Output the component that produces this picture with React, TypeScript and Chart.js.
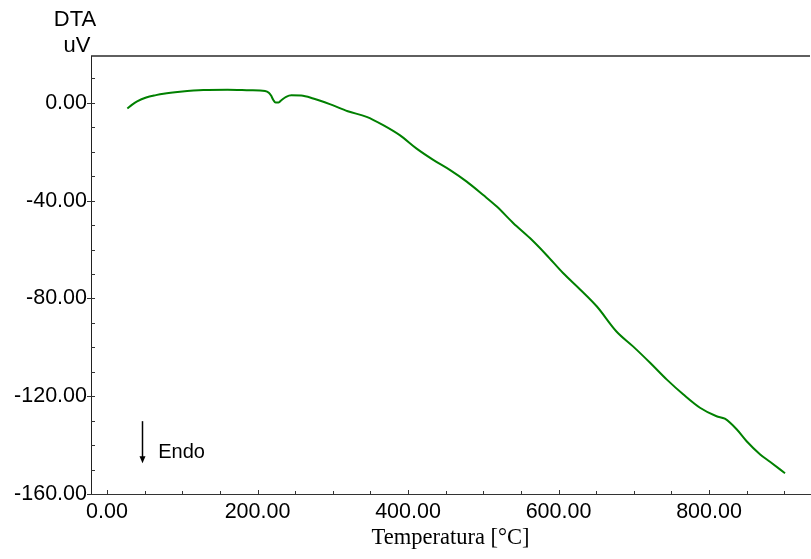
import { useEffect, useRef } from "react";
import { Chart, registerables } from "chart.js";

Chart.register(...registerables);

// ---- Data ----
const temperature: number[] = [
  27, 33, 40, 52, 65, 75, 97, 128, 160, 190, 210, 215, 218, 221, 224, 228, 232,
  238, 245, 258, 274, 296, 320, 345, 367, 389, 411, 434, 456, 478, 500, 518,
  540, 562, 584, 606, 629, 651, 677, 699, 722, 744, 766, 788, 810, 821, 837,
  850, 868, 881, 901,
];
const dtaValues: number[] = [
  -2.3, -0.8, 0.6, 2.2, 3.2, 3.8, 4.6, 5.3, 5.4, 5.2, 4.9, 4.2, 3.0, 1.2, 0.2,
  0.2, 1.2, 2.5, 3.1, 3.0, 1.8, -0.5, -3.4, -5.7, -9.1, -13.2, -18.6, -23.4,
  -27.5, -32.2, -37.7, -42.4, -49.2, -55.3, -62.2, -69.6, -76.4, -83.3, -93.5,
  -99.6, -106.4, -113.2, -119.3, -124.7, -128.2, -129.2, -133.6, -138.4,
  -143.8, -146.8, -151.5,
];
const xMajorTicks: number[] = [0, 200, 400, 600, 800];
const xMinorTicks: number[] = [50, 100, 150, 250, 300, 350, 450, 500, 550, 650, 700, 750, 850, 900];
const yMajorTicks: number[] = [-160, -120, -80, -40, 0];
const yMinorTicks: number[] = [-150, -140, -130, -110, -100, -90, -70, -60, -50, -30, -20, -10, 10];
const xTitle = "Temperatura [°C]";
const yTitleLines: string[] = ["DTA", "uV"];
const endoLabel = "Endo";

const X_MIN = -21.3;
const X_MAX = 934.2;
const Y_MIN = -160;
const Y_MAX = 19.2;

const W = 811;
const H = 559;
const SANS = "'Liberation Sans', Arial, sans-serif";
const SERIF = "'Liberation Serif', 'Times New Roman', serif";

const decorPlugin = {
  id: "decor",
  afterDraw(chart: any) {
    const ctx = chart.ctx as CanvasRenderingContext2D;
    const area = chart.chartArea;
    const xs = chart.scales.x;
    const ys = chart.scales.y;
    ctx.save();

    // top border line
    ctx.strokeStyle = "#2a2a2a";
    ctx.lineWidth = 1.6;
    ctx.beginPath();
    ctx.moveTo(area.left, area.top);
    ctx.lineTo(area.right, area.top);
    ctx.stroke();

    ctx.strokeStyle = "#333";
    ctx.lineWidth = 1;
    // y ticks
    for (const v of yMajorTicks) {
      const y = Math.round(ys.getPixelForValue(v)) + 0.5;
      ctx.beginPath();
      ctx.moveTo(area.left - 4, y);
      ctx.lineTo(area.left + 4, y);
      ctx.stroke();
    }
    for (const v of yMinorTicks) {
      const y = Math.round(ys.getPixelForValue(v)) + 0.5;
      ctx.beginPath();
      ctx.moveTo(area.left, y);
      ctx.lineTo(area.left + 4, y);
      ctx.stroke();
    }
    // x ticks (inside, upward)
    for (const v of xMajorTicks) {
      const x = Math.round(xs.getPixelForValue(v)) + 0.5;
      ctx.beginPath();
      ctx.moveTo(x, area.bottom);
      ctx.lineTo(x, area.bottom - 4);
      ctx.stroke();
    }
    for (const v of xMinorTicks) {
      const x = Math.round(xs.getPixelForValue(v)) + 0.5;
      ctx.beginPath();
      ctx.moveTo(x, area.bottom);
      ctx.lineTo(x, area.bottom - 3);
      ctx.stroke();
    }

    // y axis title (two lines)
    ctx.fillStyle = "#000";
    ctx.font = `22px ${SANS}`;
    ctx.textAlign = "center";
    ctx.textBaseline = "alphabetic";
    ctx.fillText(yTitleLines[0], 75, 26);
    ctx.fillText(yTitleLines[1], 77, 52);

    // Endo arrow
    const ax = Math.round(xs.getPixelForValue(47)) + 0.5;
    const ay0 = ys.getPixelForValue(-130.2);
    const ay1 = ys.getPixelForValue(-145);
    ctx.strokeStyle = "#000";
    ctx.lineWidth = 1.5;
    ctx.beginPath();
    ctx.moveTo(ax, ay0);
    ctx.lineTo(ax, ay1);
    ctx.stroke();
    const tipY = ys.getPixelForValue(-147.4);
    ctx.beginPath();
    ctx.moveTo(ax - 3, ay1 - 1);
    ctx.lineTo(ax + 3, ay1 - 1);
    ctx.lineTo(ax, tipY);
    ctx.closePath();
    ctx.fill();

    ctx.font = `20px ${SANS}`;
    ctx.textAlign = "left";
    ctx.fillText(endoLabel, xs.getPixelForValue(68), ys.getPixelForValue(-145.2));

    ctx.restore();
  },
};

export default function App() {
  const canvasRef = useRef<HTMLCanvasElement | null>(null);

  useEffect(() => {
    const canvas = canvasRef.current;
    if (!canvas) return;
    const points = temperature.map((t, i) => ({ x: t, y: dtaValues[i] }));
    const chart = new Chart(canvas, {
      type: "line",
      data: {
        datasets: [
          {
            data: points,
            borderColor: "rgb(0,128,0)",
            borderWidth: 2,
            pointRadius: 0,
            fill: false,
            cubicInterpolationMode: "monotone",
          },
        ],
      },
      options: {
        animation: false,
        responsive: false,
        devicePixelRatio: 1,
        layout: { padding: { top: 56, right: 1, left: 0, bottom: 0 } },
        plugins: {
          legend: { display: false },
          tooltip: { enabled: false },
        },
        scales: {
          x: {
            type: "linear",
            min: X_MIN,
            max: X_MAX,
            afterFit: (s: any) => {
              s.height = 65;
            },
            afterBuildTicks: (s: any) => {
              s.ticks = xMajorTicks.map((v) => ({ value: v }));
            },
            grid: { display: false, drawTicks: false },
            border: { display: true, color: "#333", width: 1 },
            ticks: {
              padding: 5,
              color: "#000",
              maxRotation: 0,
              font: { family: SANS, size: 21.5 },
              callback: (v: any) => Number(v).toFixed(2),
            },
            title: {
              display: true,
              text: xTitle,
              color: "#000",
              font: { family: SERIF, size: 22.5 },
              padding: { top: 0, bottom: 7 },
            },
          },
          y: {
            type: "linear",
            min: Y_MIN,
            max: Y_MAX,
            afterFit: (s: any) => {
              s.width = 91;
            },
            afterBuildTicks: (s: any) => {
              s.ticks = yMajorTicks.map((v) => ({ value: v }));
            },
            grid: { display: false, drawTicks: false },
            border: { display: true, color: "#222", width: 1 },
            ticks: {
              padding: 4,
              color: "#000",
              font: { family: SANS, size: 21.5 },
              callback: (v: any) => Number(v).toFixed(2),
            },
          },
        },
      },
      plugins: [decorPlugin],
    });
    return () => chart.destroy();
  }, []);

  return (
    <div style={{ position: "absolute", left: 0, top: 0, width: W, height: H, background: "#fff" }}>
      <canvas ref={canvasRef} width={W} height={H} style={{ width: W, height: H, display: "block" }} />
    </div>
  );
}
